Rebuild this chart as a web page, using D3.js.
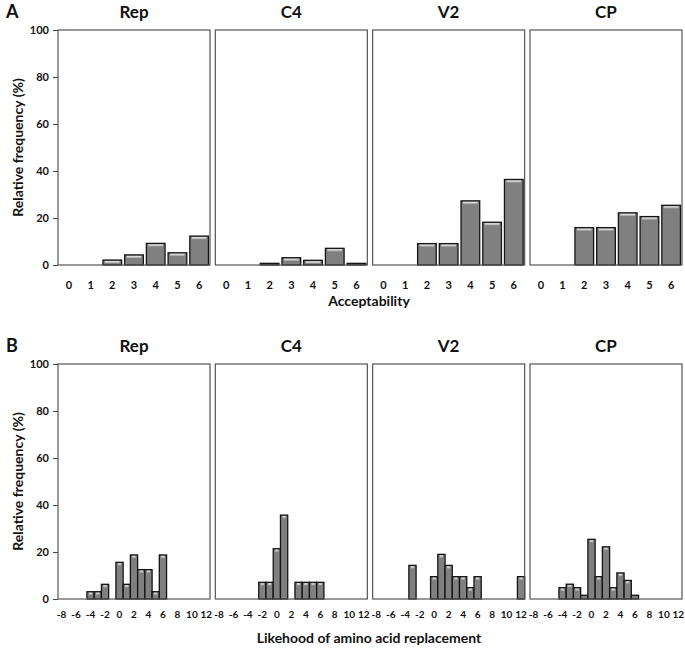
<!DOCTYPE html>
<html><head><meta charset="utf-8">
<script src="https://cdn.jsdelivr.net/npm/d3@7"></script>
<style>body{margin:0;background:#fff;} text{font-family:Lato,"Open Sans",sans-serif;font-weight:700;fill:#111;}</style>
</head><body>
<svg id="c" width="685" height="649"></svg>
<script>
const genes = ["Rep", "C4", "V2", "CP"];
const acceptCats = [0, 1, 2, 3, 4, 5, 6];
const acceptRep = [0, 0, 2.1, 4.3, 9.2, 5.2, 12.3];
const acceptC4  = [0, 0, 0.7, 3.1, 2.0, 7.1, 0.7];
const acceptV2  = [0, 0, 9.1, 9.1, 27.3, 18.2, 36.4];
const acceptCP  = [0, 0, 15.9, 15.9, 22.2, 20.6, 25.4];
const likeCats = [-8,-7,-6,-5,-4,-3,-2,-1,0,1,2,3,4,5,6,7,8,9,10,11,12];
const likeTicks = [-8,-6,-4,-2,0,2,4,6,8,10,12];
const likeRep = [0,0,0,0,3.1,3.1,6.25,0,15.6,6.25,18.75,12.5,12.5,3.1,18.75,0,0,0,0,0,0];
const likeC4  = [0,0,0,0,0,0,7.1,7.1,21.4,35.7,0,7.1,7.1,7.1,7.1,0,0,0,0,0,0];
const likeV2  = [0,0,0,0,0,14.3,0,0,9.5,19.0,14.3,9.5,9.5,4.8,9.5,0,0,0,0,0,9.5];
const likeCP  = [0,0,0,0,4.8,6.3,4.8,1.6,25.4,9.5,22.2,4.8,11.1,7.9,1.6,0,0,0,0,0,0];
const yTicks = [0, 20, 40, 60, 80, 100];

const svg = d3.select("#c");
const defs = svg.append("defs");
const g1 = defs.append("linearGradient").attr("id","hl").attr("x1",0).attr("y1",0).attr("x2",0).attr("y2",1);
g1.append("stop").attr("offset","0%").attr("stop-color","#f4f4f4");
g1.append("stop").attr("offset","100%").attr("stop-color","#9a9a9a");

const left = 58, pw = 152, gap = 5.33;
const panelX = d3.scaleBand().domain(genes).range([left, left + 4*pw + 3*gap]).paddingInner(gap/(pw+gap));

function section(cfg) {
  const y = d3.scaleLinear().domain([0, 100]).range([cfg.bottom, cfg.top]);
  const ya = svg.append("g").attr("transform", `translate(${left},0)`)
    .call(d3.axisLeft(y).tickValues(yTicks).tickSize(5).tickPadding(4));
  ya.select(".domain").remove();
  ya.selectAll("line").attr("stroke", "#444");
  ya.selectAll("text").style("font-size", "11px").attr("fill", "#111");
  svg.append("text").attr("transform", `translate(18,${(cfg.top+cfg.bottom)/2}) rotate(-90)`)
    .attr("text-anchor","middle").attr("dy","0.35em").style("font-size","14px").text("Relative frequency (%)");
  svg.append("text").attr("x", 6).attr("y", cfg.top - 12).style("font-size","18px").text(cfg.letter);

  genes.forEach((gname, i) => {
    const x0 = panelX(gname);
    const x = d3.scaleBand().domain(cfg.cats).range([x0, x0 + panelX.bandwidth()])
      .paddingInner(cfg.padIn).paddingOuter(cfg.padOut);
    const vals = cfg.series[i];
    const pg = svg.append("g");
    pg.append("text").attr("x", x0 + panelX.bandwidth()/2).attr("y", cfg.top - 12)
      .attr("text-anchor","middle").style("font-size","17px").text(gname);
    const data = cfg.cats.map((c, k) => ({c, v: vals[k]})).filter(d => d.v > 0);
    pg.selectAll("rect.bar").data(data).join("rect").attr("class","bar")
      .attr("x", d => x(d.c)).attr("width", x.bandwidth())
      .attr("y", d => y(d.v)).attr("height", d => y(0) - y(d.v))
      .attr("fill", "#808080").attr("stroke", "#151515").attr("stroke-width", 1.3);
    pg.selectAll("rect.hl").data(data.filter(d => y(0) - y(d.v) > 4)).join("rect").attr("class","hl")
      .attr("x", d => x(d.c) + cfg.hlInset).attr("width", x.bandwidth() - 2*cfg.hlInset)
      .attr("y", d => y(d.v) + 1).attr("height", 2.2)
      .attr("fill", "url(#hl)");
    pg.append("rect").attr("x", x0).attr("y", cfg.top).attr("width", panelX.bandwidth())
      .attr("height", cfg.bottom - cfg.top).attr("fill","none").attr("stroke","#555").attr("stroke-width",1.2);
    pg.selectAll("text.tl").data(cfg.ticks).join("text").attr("class","tl")
      .attr("x", d => x(d) + x.bandwidth()/2).attr("y", cfg.tickY)
      .attr("text-anchor","middle").style("font-size", cfg.tickSize).text(d => d);
  });
  svg.append("text").attr("x", 369).attr("y", cfg.labelY).attr("text-anchor","middle")
    .style("font-size","14px").text(cfg.xLabel);
}

section({letter:"A", top:30, bottom:265, cats:acceptCats, ticks:acceptCats,
  series:[acceptRep, acceptC4, acceptV2, acceptCP], padIn:0.14, padOut:0.07, hlInset:2,
  tickY:289, tickSize:"11px", labelY:306, xLabel:"Acceptability"});
section({letter:"B", top:364, bottom:599, cats:likeCats, ticks:likeTicks,
  series:[likeRep, likeC4, likeV2, likeCP], padIn:0, padOut:0, hlInset:2,
  tickY:618, tickSize:"10px", labelY:643, xLabel:"Likehood of amino acid replacement"});
</script>
</body></html>
